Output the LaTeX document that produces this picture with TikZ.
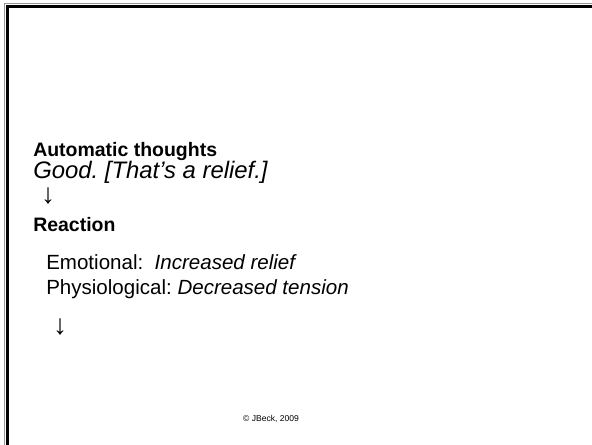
\documentclass[tikz,border=0pt]{standalone}
\usepackage{fontspec}
\setmainfont{Liberation Sans}
\tikzset{
  slidetext/.style={anchor=base west,inner sep=0pt,font=\fontsize{15.4}{18}\selectfont},
  headtext/.style={slidetext,font=\fontsize{14.6}{17}\selectfont\bfseries},
  thoughttext/.style={slidetext,font=\fontsize{17.9}{20}\selectfont\itshape},
  arrowtext/.style={anchor=center,inner sep=0pt,font=\fontsize{21}{22}\selectfont},
  smalltext/.style={anchor=base,inner sep=0pt,font=\fontsize{6.4}{8}\selectfont}
}
\begin{document}
\frenchspacing
\begin{tikzpicture}[x=0.75pt,y=0.75pt,yscale=-1,xscale=1]
    %set diagram left start at 0, and has height of 445
    \useasboundingbox (0,0) rectangle (592,445);
    \fill [white] (0,0) rectangle (592,445);
    
    %Frame [top and left edges]
    \draw [color={rgb, 255:red, 150; green, 150; blue, 150 }, line width=0.75] (4,445) -- (4,4) -- (592,4) ;
    \draw [line width=2.25] (7.5,445) -- (7.5,6.5) -- (592,6.5) ;
    % Text Node
    \node (auto) [headtext] at (33,157) {Automatic thoughts};
    % Text Node
    \node (good) [thoughttext] at (33,179) {Good. [That’s a relief.]};
    % Text Node
    \node (arrowa) [arrowtext] at (48,196) {↓};
    % Text Node
    \node (react) [headtext] at (33,232) {Reaction};
    % Text Node
    \node (emot) [slidetext] at (46,269) {Emotional:\ \ \textit{Increased relief}};
    % Text Node
    \node (phys) [slidetext] at (46,294) {Physiological: \textit{Decreased tension}};
    % Text Node
    \node (arrowb) [arrowtext] at (60,327) {↓};
    % Text Node
    \node (copy) [smalltext] at (271,421) {© JBeck, 2009};
\end{tikzpicture}
\end{document}
